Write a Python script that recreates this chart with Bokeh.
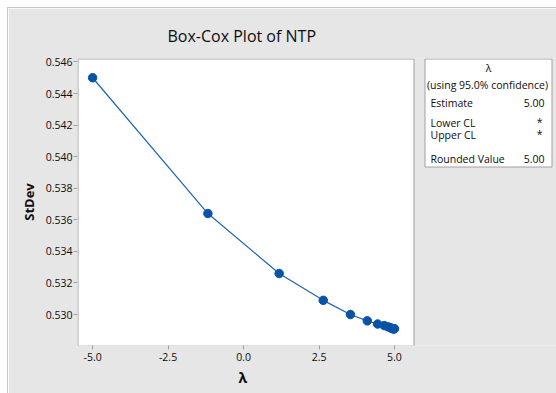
from bokeh.plotting import figure
from bokeh.models import Range1d, FixedTicker, NumeralTickFormatter, Spacer, Title
from bokeh.layouts import row, column
from bokeh.core.properties import value
from bokeh.embed import file_html
from bokeh.resources import INLINE

# ---- data ----
lam = [-5.00, -1.18, 1.18, 2.64, 3.54, 4.10, 4.44, 4.66, 4.79, 4.87, 4.92, 4.95, 4.97, 4.98, 5.00]
stdev = [0.5450, 0.5364, 0.5326, 0.5309, 0.5300, 0.5296, 0.5294, 0.5293, 0.52922,
         0.52916, 0.52912, 0.5291, 0.5291, 0.5291, 0.5291]
x_ticks = [-5.0, -2.5, 0.0, 2.5, 5.0]
y_ticks = [0.530, 0.532, 0.534, 0.536, 0.538, 0.540, 0.542, 0.544, 0.546]
title_text = "Box-Cox Plot of NTP"
x_label = "\u03bb"
y_label = "StDev"
table_head = ["\u03bb", "(using 95.0% confidence)"]
table_names = ["Estimate", "Lower CL", "Upper CL", "Rounded Value"]
table_values = ["5.00", "*", "*", "5.00"]

FONT = "Open Sans"
GRAY = "#e6e6e6"
EDGE = "#c6c6c6"
AXC = "#a0a0a0"
TXT = "#0d0d0d"

# ---- layout constants (page pixels) ----
OX, OY = 8, 8                     # figure origin on the page
PW, PH = 556 - OX, 393 - OY       # figure size
PLOT_L, PLOT_R, PLOT_T, PLOT_B = 77, 413, 58, 345   # white plot box
X0, X1 = -5.5, 5.63               # data span of the white plot box
Y0, Y1 = 0.52804, 0.54622

# the Bokeh frame spans from the plot box to the right edge, so the side
# table can be drawn inside it; the plot box itself is a white quad
x_end = X0 + (556 - PLOT_L) * (X1 - X0) / (PLOT_R - PLOT_L)

p = figure(width=PW, height=PH, output_backend="svg", toolbar_location=None,
           x_range=Range1d(X0, x_end), y_range=Range1d(Y0, Y1),
           min_border_left=PLOT_L - OX, min_border_right=0,
           min_border_top=PLOT_T - OY, min_border_bottom=393 - PLOT_B)
p.extra_x_ranges = {"px": Range1d(PLOT_L, 556)}
p.extra_y_ranges = {"px": Range1d(PLOT_B, PLOT_T)}
p.border_fill_color = GRAY
p.background_fill_color = GRAY
p.outline_line_color = None
p.grid.visible = False

p.title.text = title_text
p.title.align = "left"
p.title.offset = 90
p.title.text_font = FONT
p.title.text_font_size = "16px"
p.title.text_font_style = "normal"
p.title.text_color = TXT
p.title.standoff = 23

for ax in (p.xaxis[0], p.yaxis[0]):
    ax.axis_line_color = None
    ax.major_tick_line_color = AXC
    ax.major_tick_in = 0
    ax.major_tick_out = 4
    ax.minor_tick_line_color = None
    ax.major_label_text_font = FONT
    ax.major_label_text_font_size = "10.5px"
    ax.major_label_text_color = TXT
    ax.axis_label_text_font = FONT
    ax.axis_label_text_font_style = "bold"
    ax.axis_label_text_color = TXT

p.xaxis[0].ticker = FixedTicker(ticks=x_ticks)
p.xaxis[0].formatter = NumeralTickFormatter(format="0.0")
p.xaxis[0].major_label_standoff = 3

# x-axis title, placed under the plot box (the frame is wider than the box)
p.add_layout(Title(text=x_label, align="left", offset=161, text_font=FONT,
                   text_font_size="14px", text_font_style="bold", text_color=TXT,
                   standoff=4), "below")

p.yaxis[0].ticker = FixedTicker(ticks=y_ticks)
p.yaxis[0].formatter = NumeralTickFormatter(format="0.000")
p.yaxis[0].axis_label = y_label
p.yaxis[0].axis_label_text_font_size = "13px"
p.yaxis[0].major_label_standoff = 1
p.yaxis[0].axis_label_standoff = 5

# white plot box
p.quad(left=[PLOT_L + 0.5], right=[PLOT_R + 0.5], top=[PLOT_T + 0.5], bottom=[PLOT_B + 0.5],
       x_range_name="px", y_range_name="px",
       fill_color="white", line_color=AXC, line_width=1)

p.line(lam, stdev, line_color="#1f63b5", line_width=1.2)
p.scatter(lam, stdev, size=8.5, fill_color="#0953a6", line_color="#0953a6")

# ---- side table (page pixel coordinates) ----
p.quad(left=[424.5], right=[551.5], top=[58.5], bottom=[166.5],
       x_range_name="px", y_range_name="px",
       fill_color="white", line_color=AXC, line_width=1)

FS = "10.5px"
p.text(x=[488, 487], y=[67, 84], text=table_head, text_font=value(FONT),
       x_range_name="px", y_range_name="px",
       text_font_size=FS, text_align="center", text_baseline="middle", text_color=TXT)
name_y = [102, 122, 134, 158]
val_y = [102, 121, 133, 158]
p.text(x=[430] * 4, y=name_y, text=table_names, text_font=value(FONT),
       x_range_name="px", y_range_name="px",
       text_font_size=FS, text_align="left", text_baseline="middle", text_color=TXT)
p.text(x=[544, 542, 542, 544], y=val_y, text=table_values, text_font=value(FONT),
       x_range_name="px", y_range_name="px",
       text_font_size=FS, text_align="right", text_baseline="middle", text_color=TXT)

WHITE = {"background-color": "white"}
layout = column(
    Spacer(width=556, height=7, styles=WHITE),
    row(Spacer(width=7, height=1, styles=WHITE),
        Spacer(width=549, height=1, styles={"background-color": EDGE})),
    row(Spacer(width=7, height=PH, styles=WHITE),
        Spacer(width=1, height=PH, styles={"background-color": EDGE}), p),
)

open("out.html", "w").write(file_html(layout, INLINE))
